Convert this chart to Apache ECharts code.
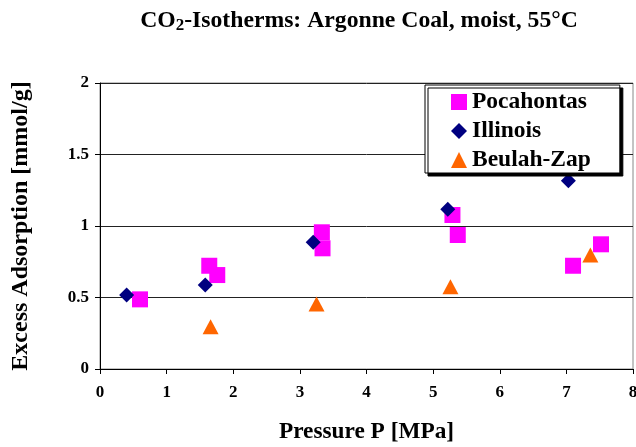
<!DOCTYPE html>
<html>
<head>
<meta charset="utf-8">
<script src="https://cdn.jsdelivr.net/npm/echarts@6/dist/echarts.min.js"></script>
<style>html,body{margin:0;padding:0;background:#fff}#c{width:636px;height:447px}</style>
</head>
<body>
<div id="c"></div>
<script>
const seriesNames = ['Pocahontas', 'Illinois', 'Beulah-Zap'];
const pocahontas = [[0.6,0.487],[1.64,0.722],[1.76,0.657],[3.33,0.956],[3.34,0.844],[5.29,1.077],[5.37,0.937],[7.10,0.722],[7.52,0.872]];
const illinois = [[0.40,0.517],[1.58,0.587],[3.20,0.886],[5.22,1.117],[7.03,1.317]];
const beulahZap = [[1.66,0.296],[3.25,0.455],[5.26,0.576],[7.36,0.797]];
const xTicks = [0,1,2,3,4,5,6,7,8];
const yTicks = [0,0.5,1,1.5,2];

const FONT = '"Liberation Serif","Times New Roman",serif';
const chart = echarts.init(document.getElementById('c'), null, {renderer:'canvas'});
chart.setOption({
  animation:false,
  backgroundColor:'#fff',
  title:{
    text:'{a|CO}{s|2}{a|-Isotherms: Argonne Coal, moist, 55°C}',
    left:359, top:7, textAlign:'center', padding:0,
    textStyle:{rich:{
      a:{fontFamily:FONT,fontWeight:'bold',fontSize:23.7,color:'#000',lineHeight:28},
      s:{fontFamily:FONT,fontWeight:'bold',fontSize:17,color:'#000',lineHeight:28,padding:[10,0,0,0]}
    }}
  },
  grid:{left:100,right:3,top:83,bottom:78,show:true,borderColor:'#888',borderWidth:1,outerBoundsMode:'none',containLabel:false},
  legend:{
    orient:'vertical', left:425, top:85,
    padding:[5,29,1,26], itemGap:5, itemWidth:16, itemHeight:16,
    backgroundColor:'#fff', borderColor:'#000', borderWidth:1,
    shadowColor:'#000', shadowOffsetX:3, shadowOffsetY:3, shadowBlur:0,
    textStyle:{fontFamily:FONT,fontWeight:'bold',fontSize:23.5,color:'#000'},
    data:seriesNames
  },
  xAxis:{
    type:'value', min:xTicks[0], max:xTicks[xTicks.length-1], interval:1,
    name:'Pressure P [MPa]', nameLocation:'middle', nameGap:51,
    nameTextStyle:{fontFamily:FONT,fontWeight:'bold',fontSize:23.3,color:'#000'},
    axisLine:{show:true,lineStyle:{color:'#000',width:1}},
    axisTick:{show:true,length:5,lineStyle:{color:'#000'}},
    axisLabel:{fontFamily:FONT,fontWeight:'bold',fontSize:17,color:'#000',margin:15},
    splitLine:{show:false}
  },
  yAxis:{
    type:'value', min:yTicks[0], max:yTicks[yTicks.length-1], interval:0.5,
    name:'Excess Adsorption [mmol/g]', nameLocation:'middle', nameGap:67,
    nameTextStyle:{fontFamily:FONT,fontWeight:'bold',fontSize:24,color:'#000'},
    axisLine:{show:true,lineStyle:{color:'#000',width:1}},
    axisTick:{show:true,length:5,lineStyle:{color:'#000'}},
    axisLabel:{fontFamily:FONT,fontWeight:'bold',fontSize:17,color:'#000',margin:11},
    splitLine:{show:true,lineStyle:{color:'#222',width:1}}
  },
  series:[
    {name:seriesNames[0],type:'scatter',symbol:'rect',symbolSize:16,data:pocahontas,itemStyle:{color:'#FF00FF',opacity:1},z:2},
    {name:seriesNames[1],type:'scatter',symbol:'diamond',symbolSize:15,data:illinois,itemStyle:{color:'#000080',opacity:1},z:3},
    {name:seriesNames[2],type:'scatter',symbol:'triangle',symbolSize:[16,15],data:beulahZap,itemStyle:{color:'#FF6600',opacity:1},z:2}
  ]
});
</script>
</body>
</html>
